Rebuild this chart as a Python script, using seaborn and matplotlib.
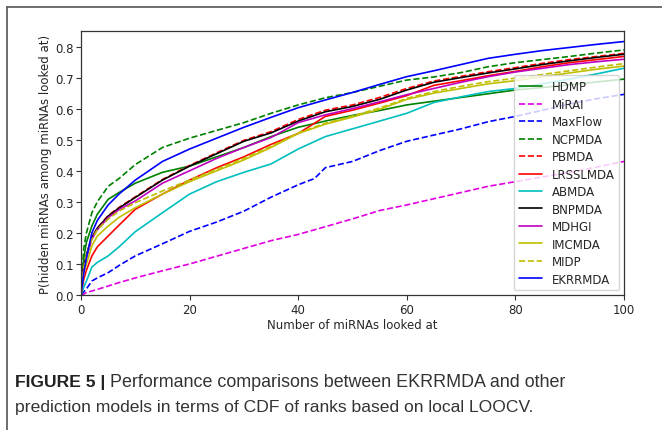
import matplotlib
matplotlib.use("Agg")
import matplotlib.pyplot as plt
import seaborn as sns
import pandas as pd
from matplotlib.lines import Line2D

# ---- data ----
x = [0, 0.5, 1, 2, 3, 5, 7, 10, 15, 20, 25, 30, 35, 40, 45, 50, 55, 60, 65, 70, 75, 80, 85, 90, 95, 100]

hdmp     = [0, 0.12, 0.17, 0.222, 0.26, 0.308, 0.33, 0.36, 0.395, 0.415, 0.445, 0.475, 0.51, 0.54, 0.56, 0.578, 0.594, 0.612, 0.624, 0.636, 0.648, 0.66, 0.668, 0.677, 0.686, 0.695]
mirai    = [0, 0.003, 0.008, 0.013, 0.018, 0.029, 0.04, 0.055, 0.078, 0.1, 0.125, 0.15, 0.175, 0.195, 0.22, 0.245, 0.272, 0.29, 0.31, 0.33, 0.35, 0.365, 0.38, 0.395, 0.412, 0.43]
ncpmda   = [0, 0.15, 0.2, 0.265, 0.3, 0.35, 0.375, 0.42, 0.475, 0.505, 0.53, 0.555, 0.585, 0.612, 0.635, 0.652, 0.672, 0.692, 0.702, 0.716, 0.735, 0.748, 0.758, 0.768, 0.779, 0.789]
pbmda    = [0, 0.09, 0.13, 0.185, 0.215, 0.256, 0.282, 0.316, 0.372, 0.417, 0.458, 0.498, 0.526, 0.565, 0.595, 0.612, 0.636, 0.665, 0.689, 0.704, 0.719, 0.732, 0.746, 0.758, 0.768, 0.778]
lrsslmda = [0, 0.05, 0.08, 0.126, 0.155, 0.19, 0.225, 0.276, 0.325, 0.37, 0.41, 0.445, 0.485, 0.52, 0.575, 0.595, 0.618, 0.642, 0.675, 0.69, 0.706, 0.72, 0.735, 0.748, 0.758, 0.768]
abmda    = [0, 0.025, 0.045, 0.09, 0.105, 0.126, 0.155, 0.204, 0.265, 0.325, 0.365, 0.395, 0.422, 0.47, 0.51, 0.535, 0.56, 0.585, 0.62, 0.638, 0.655, 0.665, 0.68, 0.695, 0.712, 0.73]
bnpmda   = [0, 0.09, 0.13, 0.185, 0.215, 0.254, 0.28, 0.314, 0.37, 0.415, 0.455, 0.495, 0.522, 0.56, 0.59, 0.607, 0.63, 0.66, 0.685, 0.70, 0.715, 0.728, 0.742, 0.754, 0.765, 0.775]
mdhgi    = [0, 0.08, 0.12, 0.18, 0.21, 0.249, 0.275, 0.303, 0.36, 0.40, 0.44, 0.475, 0.507, 0.555, 0.58, 0.60, 0.622, 0.645, 0.665, 0.685, 0.703, 0.718, 0.73, 0.742, 0.751, 0.759]
imcmda   = [0, 0.07, 0.1, 0.158, 0.19, 0.222, 0.25, 0.281, 0.325, 0.365, 0.40, 0.435, 0.475, 0.52, 0.55, 0.573, 0.598, 0.63, 0.65, 0.665, 0.68, 0.69, 0.703, 0.715, 0.727, 0.737]
midp     = [0, 0.09, 0.13, 0.18, 0.21, 0.244, 0.27, 0.297, 0.335, 0.37, 0.405, 0.44, 0.478, 0.522, 0.553, 0.576, 0.602, 0.633, 0.655, 0.672, 0.687, 0.698, 0.71, 0.722, 0.734, 0.745]
ekrrmda  = [0, 0.07, 0.12, 0.2, 0.24, 0.29, 0.325, 0.37, 0.43, 0.47, 0.505, 0.54, 0.572, 0.603, 0.628, 0.652, 0.678, 0.703, 0.722, 0.742, 0.762, 0.775, 0.787, 0.797, 0.807, 0.816]

x_maxflow = [0, 0.5, 1, 2, 3, 5, 7, 10, 15, 20, 25, 30, 35, 40, 43, 45, 50, 55, 60, 65, 70, 75, 80, 85, 90, 95, 100]
maxflow   = [0, 0.01, 0.02, 0.045, 0.055, 0.072, 0.095, 0.126, 0.165, 0.205, 0.235, 0.27, 0.315, 0.355, 0.375, 0.41, 0.43, 0.465, 0.495, 0.515, 0.535, 0.558, 0.575, 0.595, 0.615, 0.632, 0.646]

series = [
    ("HDMP", x, hdmp, "#008000", "-"),
    ("MiRAI", x, mirai, "#e000e0", "--"),
    ("MaxFlow", x_maxflow, maxflow, "#0000ff", "--"),
    ("NCPMDA", x, ncpmda, "#008000", "--"),
    ("PBMDA", x, pbmda, "#ff0000", "--"),
    ("LRSSLMDA", x, lrsslmda, "#ff0000", "-"),
    ("ABMDA", x, abmda, "#00bfbf", "-"),
    ("BNPMDA", x, bnpmda, "#000000", "-"),
    ("MDHGI", x, mdhgi, "#bf00bf", "-"),
    ("IMCMDA", x, imcmda, "#bfbf00", "-"),
    ("MIDP", x, midp, "#bfbf00", "--"),
    ("EKRRMDA", x, ekrrmda, "#0000ff", "-"),
]

sns.set_theme(style="ticks")
plt.rcParams["font.family"] = ["DejaVu Sans"]

fig = plt.figure(figsize=(6.62, 4.31), dpi=100)
ax = fig.add_axes([0.1224, 0.3132, 0.8202, 0.6126])

for name, xs, ys, col, ls in series:
    df = pd.DataFrame({"x": xs, "y": ys})
    sns.lineplot(data=df, x="x", y="y", ax=ax, color=col, linestyle=ls,
                 linewidth=1.2, label=name)

ax.set_xlim(0, 100)
ax.set_ylim(0, 0.85)
ax.set_xticks([0, 20, 40, 60, 80, 100])
ax.set_yticks([0.0, 0.1, 0.2, 0.3, 0.4, 0.5, 0.6, 0.7, 0.8])
ax.set_yticklabels(["0.0", "0.1", "0.2", "0.3", "0.4", "0.5", "0.6", "0.7", "0.8"])
ax.tick_params(labelsize=8.5, length=3.5, width=0.8, color="#333333", pad=2)
ax.set_xlabel("Number of miRNAs looked at", fontsize=8.5, labelpad=2)
ax.set_ylabel("P(hidden miRNAs among miRNAs looked at)", fontsize=8.5, labelpad=2)
for s in ax.spines.values():
    s.set_linewidth(0.9)
    s.set_color("#333333")

ax.legend(loc="lower right", fontsize=8.5, frameon=True, handlelength=2.0,
          labelspacing=0.38, borderaxespad=0.4)

# outer frame (top and left edges visible)
fig.add_artist(Line2D([7 / 662, 1.0], [1 - 8 / 431, 1 - 8 / 431], color="#555555",
                      linewidth=1.2, transform=fig.transFigure))
fig.add_artist(Line2D([7 / 662, 7 / 662], [1 - 8 / 431, 0.0], color="#555555",
                      linewidth=1.2, transform=fig.transFigure))

# caption
cap_font = ["Liberation Sans", "DejaVu Sans"]
fig.canvas.draw()
renderer = fig.canvas.get_renderer()
t1 = fig.text(15 / 662, 1 - 383 / 431, "FIGURE 5 |", fontsize=12.6, fontweight="bold",
              family=cap_font, color="#222222", va="center", ha="left")
bb = t1.get_window_extent(renderer=renderer)
fig.text((bb.x1 + 5) / 662, 1 - 383 / 431,
         "Performance comparisons between EKRRMDA and other",
         fontsize=12.9, family=cap_font, color="#333333", va="center", ha="left")
fig.text(15 / 662, 1 - 408 / 431,
         "prediction models in terms of CDF of ranks based on local LOOCV.",
         fontsize=12.6, family=cap_font, color="#333333", va="center", ha="left")

fig.savefig("out.png", dpi=100)
